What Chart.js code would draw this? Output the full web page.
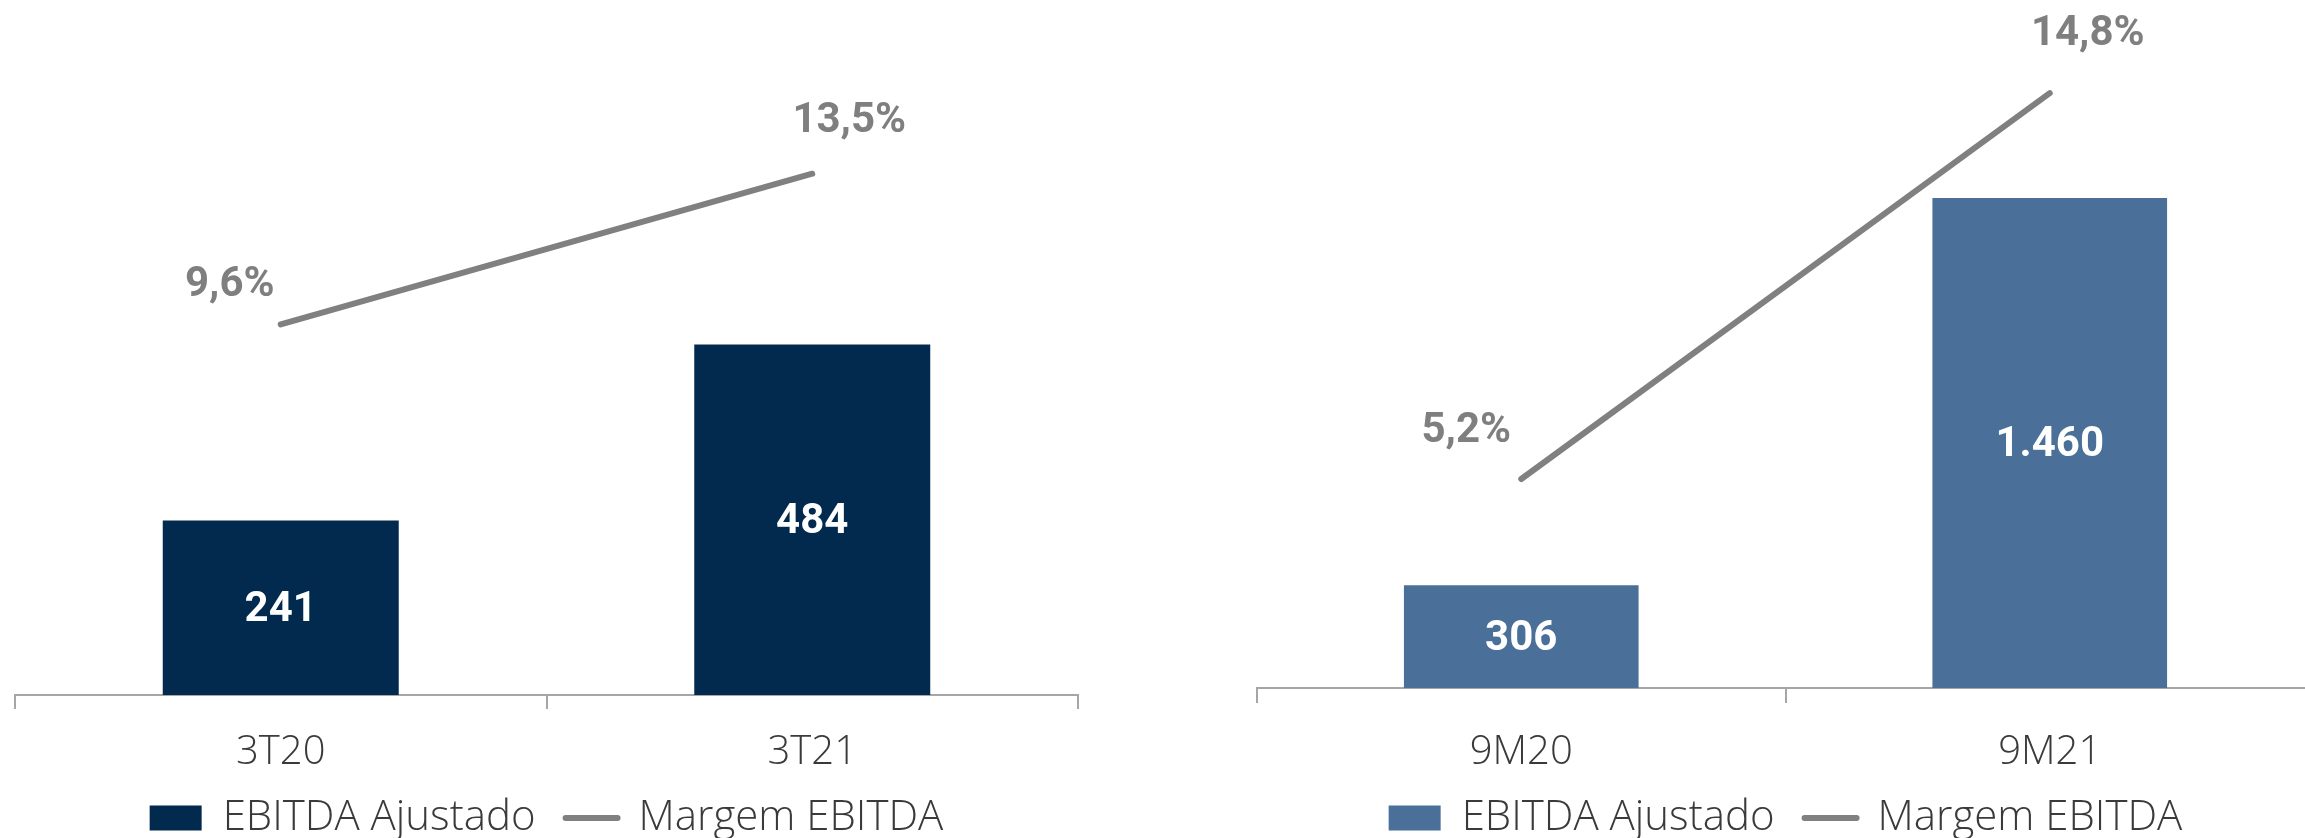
<!DOCTYPE html>
<html>
<head>
<meta charset="utf-8">
<script src="https://cdn.jsdelivr.net/npm/chart.js@4.4.1/dist/chart.umd.min.js"></script>
<style>
  html, body { margin: 0; padding: 0; background: #fff; overflow: hidden; width: 2305px; height: 838px; }
  canvas { position: absolute; top: 0; }
  #quarterChart { left: 0; }
  #ytdChart { left: 1242px; }
</style>
</head>
<body>
<canvas id="quarterChart" width="1093" height="849"></canvas>
<canvas id="ytdChart" width="1087" height="849"></canvas>
<script>
const quarterLabels = ['3T20', '3T21'];
const quarterEbitda = [241, 484];
const quarterMargin = [9.6, 13.5];

const ytdLabels = ['9M20', '9M21'];
const ytdEbitda = [306, 1460];
const ytdMargin = [5.2, 14.8];

const seriesNames = ['EBITDA Ajustado', 'Margem EBITDA'];

const textFont = "'Open Sans', 'DejaVu Sans', sans-serif";
const labelFont = "Roboto, 'Open Sans', sans-serif";

function fmtInt(v) {
    return String(v).replace(/\B(?=(\d{3})+(?!\d))/g, '.');
}
function fmtPct(v) {
    return v.toFixed(1).replace('.', ',') + '%';
}

// draws the numbers on bars and next to line points
const valueLabels = {
    id: 'valueLabels',
    afterDatasetsDraw(chart) {
        const ctx = chart.ctx;
        chart.data.datasets.forEach((ds, i) => {
            const meta = chart.getDatasetMeta(i);
            meta.data.forEach((el, j) => {
                const v = ds.data[j];
                ctx.save();
                ctx.textAlign = 'center';
                ctx.textBaseline = 'middle';
                if (ds.type === 'bar') {
                    ctx.font = '700 42px ' + labelFont;
                    ctx.fillStyle = '#ffffff';
                    ctx.fillText(fmtInt(v), el.x, (el.y + el.base) / 2 + 3);
                } else {
                    const off = ds.labelOffsets[j];
                    ctx.font = '700 42px ' + labelFont;
                    ctx.fillStyle = '#7f7f7f';
                    ctx.fillText(fmtPct(v), el.x + off[0], el.y + off[1]);
                }
                ctx.restore();
            });
        });
    }
};

function makeChart(id, labels, bars, margin, o) {
    const ctx = document.getElementById(id).getContext('2d');
    return new Chart(ctx, {
        data: {
            labels: labels,
            datasets: [
                {
                    type: 'line',
                    label: seriesNames[1],
                    data: margin,
                    yAxisID: 'y2',
                    borderColor: '#808080',
                    backgroundColor: '#808080',
                    borderWidth: 6,
                    borderCapStyle: 'round',
                    pointRadius: 0,
                    tension: 0,
                    order: 0,
                    labelOffsets: o.offsets
                },
                {
                    type: 'bar',
                    label: seriesNames[0],
                    data: bars,
                    yAxisID: 'y',
                    backgroundColor: o.barColor,
                    borderWidth: 0,
                    barPercentage: 0.444,
                    categoryPercentage: 1,
                    order: 1
                }
            ]
        },
        options: {
            responsive: false,
            animation: false,
            devicePixelRatio: 1,
            layout: { padding: { left: 15, right: 15, top: 10, bottom: 0 } },
            scales: {
                x: {
                    offset: true,
                    grid: {
                        offset: true,
                        drawOnChartArea: false,
                        drawTicks: true,
                        tickLength: o.tickLength,
                        color: '#a6a6a6',
                        lineWidth: 2
                    },
                    border: { display: true, color: '#a6a6a6', width: 2 },
                    ticks: {
                        color: '#3a3a3a',
                        padding: o.tickPadding,
                        font: { family: textFont, size: 40, weight: 300, lineHeight: 1.2 }
                    },
                    afterFit: s => { s.height = o.axisHeight; }
                },
                y: { display: false, min: 0, max: o.yMax },
                y2: { display: false, min: 0, max: o.y2Max }
            },
            plugins: {
                tooltip: { enabled: false },
                legend: {
                    position: 'bottom',
                    labels: {
                        usePointStyle: true,
                        pointStyleWidth: 52,
                        boxHeight: 25,
                        padding: 30,
                        color: '#3a3a3a',
                        font: { family: textFont, size: 42, weight: 300 },
                        generateLabels: chart => [1, 0].map(i => {
                            const ds = chart.data.datasets[i];
                            const isBar = ds.type === 'bar';
                            return {
                                text: ds.label,
                                datasetIndex: i,
                                fillStyle: isBar ? ds.backgroundColor : 'rgba(0,0,0,0)',
                                strokeStyle: ds.borderColor || ds.backgroundColor,
                                lineWidth: isBar ? 0 : 6,
                                lineCap: 'round',
                                pointStyle: isBar ? 'rect' : 'line',
                                fontColor: '#3a3a3a',
                                hidden: false
                            };
                        })
                    }
                }
            }
        },
        plugins: [valueLabels]
    });
}

// legend: 42px font, 30 padding -> height 82, top at 767
makeChart('quarterChart', quarterLabels, quarterEbitda, quarterMargin, {
    barColor: '#022a4f',
    yMax: 946,
    y2Max: 17.74,
    tickLength: 14,
    tickPadding: 20,
    axisHeight: 72,
    offsets: [[-51, -39], [37, -52]]
});

makeChart('ytdChart', ytdLabels, ytdEbitda, ytdMargin, {
    barColor: '#4a6f98',
    yMax: 2020,
    y2Max: 16.87,
    tickLength: 15,
    tickPadding: 26,
    axisHeight: 79,
    offsets: [[-55, -48], [38, -59]]
});
</script>
</body>
</html>
